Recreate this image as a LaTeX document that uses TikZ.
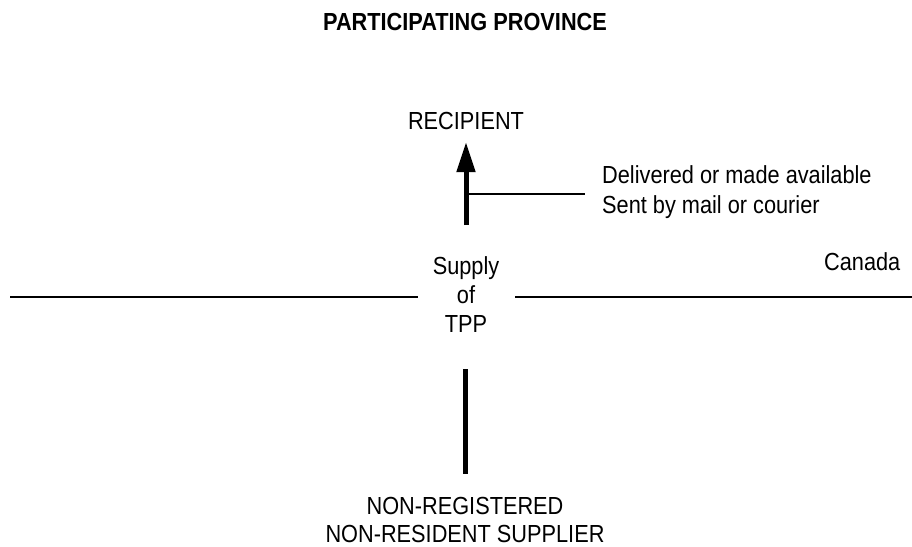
\documentclass[tikz,border=0pt]{standalone}
\usepackage{fontspec}
\setmainfont{Liberation Sans}[FakeStretch=0.88]
\usetikzlibrary{arrows.meta}
\begin{document}
\begin{tikzpicture}[x=1pt,y=-1pt,
  lbl/.style={inner sep=0pt, anchor=base, font=\fontsize{24.7}{29}\selectfont},
  lblw/.style={lbl, anchor=base west},
  ttl/.style={lbl, font=\fontsize{24.7}{29}\selectfont\bfseries},
  thick bar/.style={line width=5pt},
  thin rule/.style={line width=2pt},
  flow/.style={thick bar, -{Triangle[width=18pt,length=30pt]}}]
\useasboundingbox (0,0) rectangle (912,546);

% headings and labels
\node[ttl] (title) at (465,30.7) {PARTICIPATING PROVINCE};
\node[lbl] (recipient) at (466,129.3) {RECIPIENT};
\node[lblw] (how1) at (602,183.3) {Delivered or made available};
\node[lblw] (how2) at (602,213.3) {Sent by mail or courier};
\node[lbl] (supply1) at (466,274) {Supply};
\node[lbl] (supply2) at (466,303.3) {of};
\node[lbl] (supply3) at (466,332.5) {TPP};
\node[lblw] (canada) at (824,270.7) {Canada};
\node[lbl] (supplier1) at (465,514) {NON-REGISTERED};
\node[lbl] (supplier2) at (465,542.6) {NON-RESIDENT SUPPLIER};

% border line between the province and the rest of Canada
\coordinate (borderW) at (10,297);
\coordinate (borderWend) at (418,297);
\coordinate (borderEstart) at (515,297);
\coordinate (borderE) at (912,297);
\draw[thin rule] (borderW) -- (borderWend);
\draw[thin rule] (borderEstart) -- (borderE);

% supply flowing up to the recipient
\coordinate (flowfoot) at (466,225);
\draw[flow, shorten >=12.4pt] (flowfoot) -- (recipient.south);
\coordinate (branchroot) at (466,194.3);
\coordinate (branchend) at (585,194.3);
\draw[thin rule] (branchroot) -- (branchend);

% supplier side
\coordinate (supplierTop) at (465.5,369);
\coordinate (supplierBot) at (465.5,473.5);
\draw[thick bar] (supplierTop) -- (supplierBot);
\end{tikzpicture}
\end{document}
